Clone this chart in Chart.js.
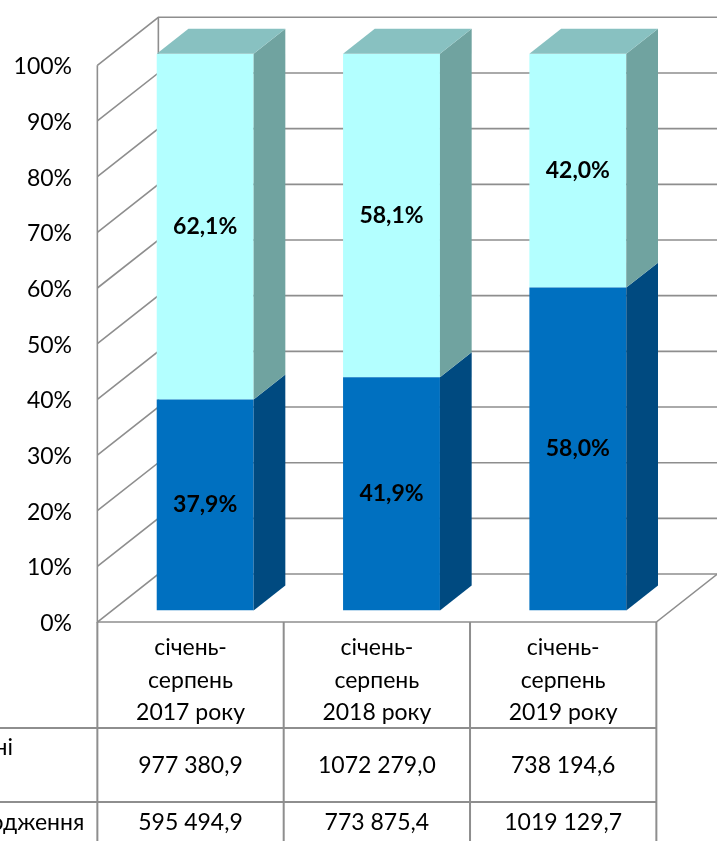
<!DOCTYPE html>
<html>
<head>
<meta charset="utf-8">
<script src="https://cdn.jsdelivr.net/npm/chart.js@4.4.0/dist/chart.umd.min.js"></script>
<style>
  html, body { margin: 0; padding: 0; background: #fff; }
  #wrap { width: 717px; height: 841px; }
</style>
</head>
<body>
<div id="wrap"><canvas id="chart"></canvas></div>
<script>
var periods = [["січень-", "серпень", "2017 року"], ["січень-", "серпень", "2018 року"], ["січень-", "серпень", "2019 року"]];
var shareBottom = [37.9, 41.9, 58.0];
var shareTop = [62.1, 58.1, 42.0];
var percentTicks = [0, 10, 20, 30, 40, 50, 60, 70, 80, 90, 100];
var rowNames = ["Власні", "Надходження"];
var rowTop = ["977 380,9", "1072 279,0", "738 194,6"];
var rowBottom = ["595 494,9", "773 875,4", "1019 129,7"];

// oblique depth of the 3d box and where the bars sit in it
var depth = { x: 61, y: -48 };
var frontAt = 0.24, barDepth = 0.52;
var lineGray = '#8e8e8e';

function fmt(v) {
    return v.toFixed(1).replace('.', ',') + '%';
}

var box3d = {
    id: 'box3d',
    beforeDatasetsDraw: function (chart) {
        var ctx = chart.ctx, yS = chart.scales.y, a = chart.chartArea;
        var fx = -frontAt * depth.x, fy = -frontAt * depth.y;
        var bx = (1 - frontAt) * depth.x, by = (1 - frontAt) * depth.y;
        ctx.save();
        ctx.strokeStyle = lineGray;
        ctx.lineWidth = 1.6;
        yS.ticks.forEach(function (t) {
            var p = yS.getPixelForValue(t.value);
            ctx.beginPath();
            ctx.moveTo(a.left + fx, p + fy);
            ctx.lineTo(a.left + bx, p + by);
            ctx.lineTo(a.right + bx, p + by);
            ctx.stroke();
        });
        var p0 = yS.getPixelForValue(0), p100 = yS.getPixelForValue(100);
        ctx.beginPath();
        ctx.moveTo(a.left + fx, p100 + fy);
        ctx.lineTo(a.left + fx, p0 + fy);
        ctx.lineTo(a.right + fx, p0 + fy);
        ctx.lineTo(a.right + bx, p0 + by);
        ctx.moveTo(a.left + bx, p100 + by);
        ctx.lineTo(a.left + bx, p0 + by);
        ctx.stroke();
        ctx.restore();
    },
    afterDatasetsDraw: function (chart) {
        var ctx = chart.ctx;
        var sx = barDepth * depth.x, sy = barDepth * depth.y;
        var last = chart.data.datasets.length - 1;
        ctx.save();
        chart.data.datasets.forEach(function (ds, di) {
            chart.getDatasetMeta(di).data.forEach(function (el) {
                var p = el.getProps(['x', 'y', 'base', 'width'], true);
                var l = p.x - p.width / 2, r = p.x + p.width / 2;
                var top = Math.min(p.y, p.base), bot = Math.max(p.y, p.base);
                ctx.fillStyle = ds.sideColor;
                ctx.beginPath();
                ctx.moveTo(r, top);
                ctx.lineTo(r + sx, top + sy);
                ctx.lineTo(r + sx, bot + sy);
                ctx.lineTo(r, bot);
                ctx.closePath();
                ctx.fill();
                if (di === last) {
                    ctx.fillStyle = ds.topColor;
                    ctx.beginPath();
                    ctx.moveTo(l, top);
                    ctx.lineTo(r, top);
                    ctx.lineTo(r + sx, top + sy);
                    ctx.lineTo(l + sx, top + sy);
                    ctx.closePath();
                    ctx.fill();
                }
            });
        });
        ctx.fillStyle = '#000';
        ctx.font = 'bold 23px Lato';
        ctx.textAlign = 'center';
        ctx.textBaseline = 'middle';
        chart.data.datasets.forEach(function (ds, di) {
            chart.getDatasetMeta(di).data.forEach(function (el, i) {
                var p = el.getProps(['x', 'y', 'base'], true);
                ctx.fillText(fmt(ds.data[i]), p.x, (p.y + p.base) / 2);
            });
        });
        ctx.restore();
    },
    afterDraw: function (chart) {
        // data table under the floor
        var ctx = chart.ctx, xS = chart.scales.x, yS = chart.scales.y;
        var fx = -frontAt * depth.x, fy = -frontAt * depth.y;
        var floorY = yS.getPixelForValue(0) + fy;
        var n = periods.length, catW = xS.width / n;
        var row1 = floorY + 106, row2 = row1 + 74, bottom = chart.height;
        var left = xS.left + fx, right = xS.right + fx;
        ctx.save();
        ctx.strokeStyle = lineGray;
        ctx.lineWidth = 2;
        ctx.beginPath();
        for (var i = 0; i <= n; i++) {
            var cx = left + i * catW;
            ctx.moveTo(cx, floorY);
            ctx.lineTo(cx, bottom);
        }
        ctx.moveTo(0, row1);
        ctx.lineTo(right, row1);
        ctx.moveTo(0, row2);
        ctx.lineTo(right, row2);
        ctx.stroke();

        ctx.fillStyle = '#000';
        ctx.font = '23px Lato';
        ctx.textBaseline = 'middle';
        ctx.textAlign = 'center';
        for (var j = 0; j < n; j++) {
            var mx = xS.getPixelForValue(j) + fx;
            ctx.fillText(rowTop[j], mx, row1 + 38);
            ctx.fillText(rowBottom[j], mx, row2 + 21);
        }
        ctx.textAlign = 'right';
        ctx.fillText(rowNames[0], 13, row1 + 20);
        ctx.fillText(rowNames[1], left - 13, row2 + 21);
        ctx.restore();
    }
};

var chart = new Chart(document.getElementById('chart').getContext('2d'), {
    type: 'bar',
    data: {
        labels: periods,
        datasets: [{
            label: rowNames[1],
            data: shareBottom,
            backgroundColor: '#0070c0',
            sideColor: '#004a80',
            topColor: '#0a5d99',
            borderWidth: 0
        }, {
            label: rowNames[0],
            data: shareTop,
            backgroundColor: '#b3ffff',
            sideColor: '#70a3a0',
            topColor: '#88c1c1',
            borderWidth: 0
        }]
    },
    options: {
        responsive: true,
        maintainAspectRatio: false,
        animation: false,
        categoryPercentage: 0.52,
        barPercentage: 1.0,
        layout: {
            padding: { left: 12, right: 46, top: 49, bottom: 0 }
        },
        scales: {
            x: {
                stacked: true,
                grid: { display: false, drawTicks: false },
                border: { display: false },
                afterFit: function (s) { s.height = 230.5; },
                ticks: {
                    padding: 21,
                    labelOffset: -frontAt * depth.x,
                    maxRotation: 0,
                    autoSkip: false,
                    color: '#000',
                    font: { family: 'Lato', size: 23, lineHeight: 1.41 }
                }
            },
            y: {
                stacked: true,
                min: 0,
                max: 100,
                grid: { display: false, drawTicks: false },
                border: { display: false },
                afterBuildTicks: function (s) {
                    s.ticks = percentTicks.map(function (v) { return { value: v }; });
                },
                afterFit: function (s) { s.width = 100; },
                ticks: {
                    padding: 40,
                    labelOffset: 13,
                    color: '#000',
                    font: { family: 'Lato', size: 23 },
                    callback: function (v) { return v + '%'; }
                }
            }
        },
        plugins: {
            legend: { display: false },
            tooltip: { enabled: false }
        }
    },
    plugins: [box3d]
});
</script>
</body>
</html>
